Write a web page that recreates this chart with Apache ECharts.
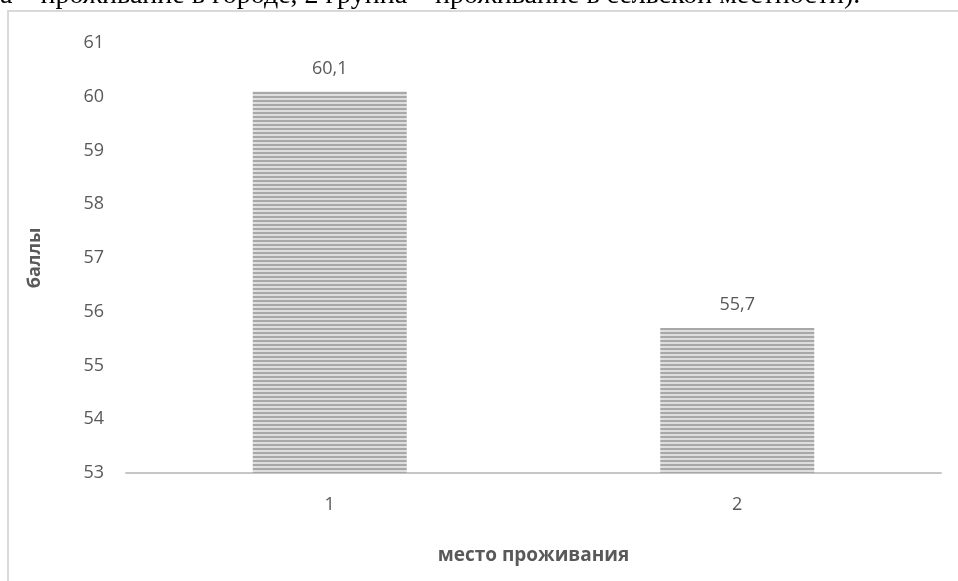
<!DOCTYPE html>
<html>
<head>
<meta charset="utf-8">
<script src="https://cdn.jsdelivr.net/npm/echarts@6/dist/echarts.min.js"></script>
<style>
  html, body { margin: 0; padding: 0; background: #fff; }
  #chart { width: 958px; height: 581px; }
</style>
</head>
<body>
<div id="chart"></div>
<script>
// Place of residence groups and mean scores
const categories = ['1', '2'];
const scores = [60.1, 55.7];
const yTicks = { min: 53, max: 61, step: 1 };
const captionText = 'а – проживание в городе, 2 группа – проживание в сельской местности).';

// Horizontal stripe fill for the bars
function stripePattern() {
  const c = document.createElement('canvas');
  c.width = 8; c.height = 4;
  const ctx = c.getContext('2d');
  ctx.fillStyle = '#dedede';
  ctx.fillRect(0, 0, 8, 4);
  ctx.fillStyle = '#a8a8a8';
  ctx.fillRect(0, 0, 8, 2);
  return c;
}

const comma = v => String(v).replace('.', ',');
const chart = echarts.init(document.getElementById('chart'), null, { renderer: 'canvas' });

const labelFont = { color: '#595959', fontSize: 18, fontFamily: 'Open Sans' };
const nameFont = { color: '#595959', fontSize: 18, fontWeight: 'bold', fontFamily: 'Open Sans' };

chart.setOption({
  backgroundColor: '#ffffff',
  animation: false,
  graphic: [
    {
      type: 'rect',
      shape: { x: 8, y: 11, width: 1000, height: 700 },
      style: { fill: 'none', stroke: '#d9d9d9', lineWidth: 2 },
      silent: true
    },
    {
      type: 'text',
      left: 0,
      top: -18,
      style: {
        text: captionText,
        font: '28px "Liberation Serif"',
        fill: '#000000'
      },
      silent: true
    }
  ],
  grid: { left: 126, right: 17, top: 43, bottom: 108 },
  xAxis: {
    type: 'category',
    data: categories,
    name: 'место проживания',
    nameLocation: 'middle',
    nameGap: 73,
    nameTextStyle: Object.assign({}, nameFont, { fontSize: 19 }),
    axisLine: { lineStyle: { color: '#c6c6c6', width: 2 } },
    axisTick: { show: false },
    axisLabel: Object.assign({ margin: 23 }, labelFont)
  },
  yAxis: {
    type: 'value',
    min: yTicks.min,
    max: yTicks.max,
    interval: yTicks.step,
    name: 'баллы',
    nameLocation: 'middle',
    nameGap: 82,
    nameTextStyle: nameFont,
    axisLine: { show: false },
    axisTick: { show: false },
    splitLine: { show: false },
    axisLabel: Object.assign({ margin: 22 }, labelFont)
  },
  series: [{
    type: 'bar',
    data: scores,
    barWidth: 154,
    itemStyle: { color: { image: stripePattern(), repeat: 'repeat' } },
    label: Object.assign({
      show: true,
      position: 'top',
      distance: 14,
      formatter: p => comma(p.value)
    }, labelFont)
  }]
});
</script>
</body>
</html>
